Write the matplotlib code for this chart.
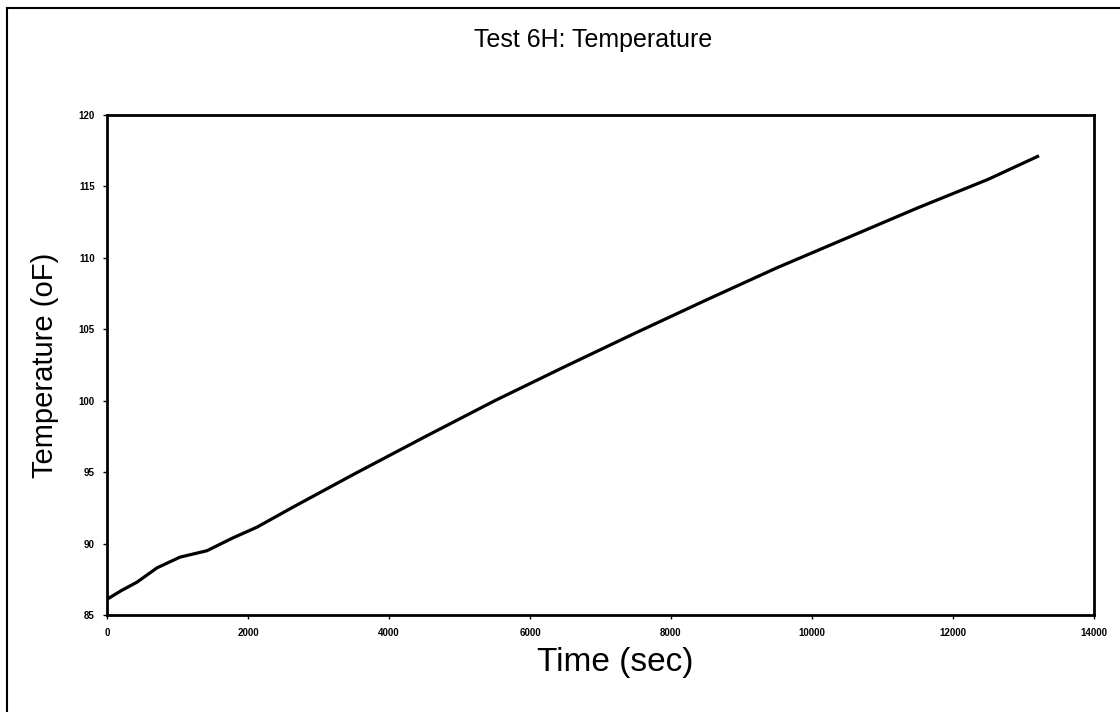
import matplotlib
matplotlib.use("Agg")
import matplotlib.pyplot as plt
from matplotlib.lines import Line2D

plt.rcParams['font.family'] = ['Liberation Sans', 'DejaVu Sans']

# Data
time_sec = [0, 200, 426, 709, 1035, 1418, 1787, 2128, 2638, 3500, 4500, 5500,
            6500, 7500, 8500, 9500, 10500, 11500, 12500, 13200]
temp_f = [86.1, 86.7, 87.3, 88.3, 89.05, 89.5, 90.4, 91.15, 92.55, 94.85, 97.45,
          100.0, 102.4, 104.75, 107.05, 109.3, 111.4, 113.5, 115.5, 117.1]

x_ticks = [0, 2000, 4000, 6000, 8000, 10000, 12000, 14000]
y_ticks = [85, 90, 95, 100, 105, 110, 115, 120]

fig = plt.figure(figsize=(11.2, 7.12), dpi=100)
ax = fig.add_axes([107/1120, 1 - 615/712, (1094-107)/1120, (615-115)/712])

ax.plot(time_sec, temp_f, color='black', linewidth=2.3)

ax.set_xlim(0, 14000)
ax.set_ylim(85, 120)
ax.set_xticks(x_ticks)
ax.set_yticks(y_ticks)
ax.set_xticklabels([str(v) for v in x_ticks], fontsize=7, fontweight='bold')
ax.set_yticklabels([str(v) for v in y_ticks], fontsize=7, fontweight='bold')
ax.tick_params(axis='both', direction='out', length=3, width=1, pad=6)

for s in ax.spines.values():
    s.set_linewidth(2)
    s.set_color('black')

fig.text(593/1120, 1 - 40/712, 'Test 6H: Temperature', fontsize=18,
         ha='center', va='center')
fig.text(615/1120, 1 - 663/712, 'Time (sec)', fontsize=24,
         ha='center', va='center')
ax.set_ylabel('Temperature (oF)', fontsize=21, labelpad=14)

# outer frame lines of the chart area
fig.add_artist(Line2D([7/1120, 7/1120], [0, 1 - 8/712], transform=fig.transFigure,
                      color='black', linewidth=1.5))
fig.add_artist(Line2D([7/1120, 1], [1 - 8/712, 1 - 8/712], transform=fig.transFigure,
                      color='black', linewidth=1.5))

fig.savefig('out.png', dpi=100)
